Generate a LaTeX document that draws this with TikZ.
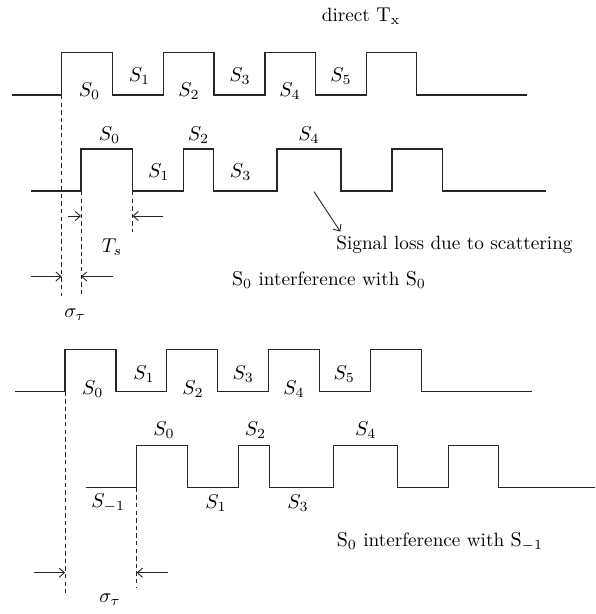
\documentclass[tikz,border=0pt]{standalone}
\usetikzlibrary{calc}
\usetikzlibrary{arrows.meta}
\usepackage{amsmath, amssymb}

\begin{document}
\begin{tikzpicture}[x=0.5pt, y=-0.5pt]
        % ================= 样式定义 =================
        \tikzset{
            % 波形与虚线:细线,略带灰色
            wave/.style={line width=0.55pt, black!85},
            guide/.style={line width=0.45pt, black!85, dash pattern=on 2.2pt off 1.6pt},
            dimarrow/.style={line width=0.45pt, black!85, -{Straight Barb[length=2.6pt, width=4.6pt]}},
            lbl/.style={inner sep=0pt, font=\fontsize{9.6}{11.5}\selectfont}
        }
        \useasboundingbox (0,0) rectangle (595,614);

        % ================= 上图:S0 与 S0 干扰 =================
        % 1. 直达信号 (direct Tx)
        \node[lbl] (direct) at (361,16) {direct $\mathrm{T_x}$};
        \draw[wave] (11.7,95) -| (61.7,52.7) -| (112.5,95) -| (163.3,52.7) -| (214,95)
                    -| (265,52.7) -| (315.7,95) -| (366.7,52.7) -| (416.7,95) -- (526.7,95);

        % 2. 散射后的接收信号
        \draw[wave] (31,191) -| (81,149) -| (132.5,191) -| (183.4,149) -| (213.3,191)
                    -| (277,149) -| (341,191) -| (392,149) -| (442.5,191) -- (546,191);

        % 3. 符号标注
        \node[lbl] (a0) at (89.5,91)  {$S_0$};
        \node[lbl] (a1) at (139.5,76) {$S_1$};
        \node[lbl] (a2) at (189,91)   {$S_2$};
        \node[lbl] (a3) at (240,76)   {$S_3$};
        \node[lbl] (a4) at (290,91)   {$S_4$};
        \node[lbl] (a5) at (341,76)   {$S_5$};
        \node[lbl] (b0) at (109.5,135) {$S_0$};
        \node[lbl] (b2) at (198.5,135) {$S_2$};
        \node[lbl] (b4) at (309,135)   {$S_4$};
        \node[lbl] (b1) at (158.7,172) {$S_1$};
        \node[lbl] (b3) at (240.6,172) {$S_3$};

        % 4. 虚线与尺寸箭头
        \draw[guide] (61.7,95) -- (61.7,296);
        \draw[guide] (81,191) -- (81,296);
        \draw[guide] (132.5,191) -- (132.5,231.7);
        \coordinate (tsL) at (68.3,216);   \coordinate (tsA) at (81,216);
        \coordinate (tsR) at (162.7,216);  \coordinate (tsB) at (132.5,216);
        \coordinate (stL) at (30.6,276.5); \coordinate (stA) at (61.7,276.5);
        \coordinate (stR) at (113,276.5);  \coordinate (stB) at (81,276.5);
        \draw[dimarrow] (tsL) -- (tsA);
        \draw[dimarrow] (tsR) -- (tsB);
        \draw[dimarrow] (stL) -- (stA);
        \draw[dimarrow] (stR) -- (stB);
        \node[lbl] (ts) at (112,247)   {$T_s$};
        \node[lbl] (sig1) at (75,315)  {$\sigma_\tau$};

        % 5. 文字说明
        \node[lbl] (loss) at (454.5,245) {Signal loss due to scattering};
        \coordinate (gap) at (314,191.6);
        \coordinate (lossTip) at (340.3,231.6);
        \draw[dimarrow] (gap) -- (lossTip);
        \node[lbl] (int1) at (329,280) {$\mathrm{S_0}$ interference with $\mathrm{S_0}$};

        % ================= 下图:S0 与 S-1 干扰 =================
        % 1. 直达信号
        \draw[wave] (15,391.5) -| (65,349.3) -| (116,391.5) -| (166.7,349.3) -| (217.4,391.5)
                    -| (268.8,349.3) -| (319.5,391.5) -| (370.9,349.3) -| (421.5,391.5) -- (531.7,391.5);

        % 2. 延迟更大的接收信号
        \draw[wave] (86,487.7) -| (136.7,445.7) -| (187.7,487.7) -| (238.7,445.7) -| (269.2,487.7)
                    -| (333.2,445.7) -| (397.5,487.7) -| (448.5,445.7) -| (498.5,487.7) -- (595,487.7);

        % 3. 符号标注
        \node[lbl] (c0) at (92.8,389)  {$S_0$};
        \node[lbl] (c1) at (144,374)   {$S_1$};
        \node[lbl] (c2) at (193,389)   {$S_2$};
        \node[lbl] (c3) at (243.3,374) {$S_3$};
        \node[lbl] (c4) at (294,389)   {$S_4$};
        \node[lbl] (c5) at (344.3,374) {$S_5$};
        \node[lbl] (d0) at (164,430.5)   {$S_0$};
        \node[lbl] (d2) at (255.5,430.5) {$S_2$};
        \node[lbl] (d4) at (365.8,430.5) {$S_4$};
        \node[lbl] (dm) at (108.3,503.3) {$S_{-1}$};
        \node[lbl] (d1) at (216,503.3)   {$S_1$};
        \node[lbl] (d3) at (297.9,503.3) {$S_3$};

        % 4. 虚线与尺寸箭头
        \draw[guide] (65,391.5) -- (65,593);
        \draw[guide] (136.7,487.7) -- (136.7,588);
        \coordinate (lwL) at (34.3,572.7);  \coordinate (lwA) at (65,572.7);
        \coordinate (lwR) at (167.7,572.7); \coordinate (lwB) at (136.7,572.7);
        \draw[dimarrow] (lwL) -- (lwA);
        \draw[dimarrow] (lwR) -- (lwB);
        \node[lbl] (sig2) at (110,600) {$\sigma_\tau$};

        % 5. 文字说明
        \node[lbl] (int2) at (440,541.5) {$\mathrm{S_0}$ interference with $\mathrm{S_{-1}}$};

    \end{tikzpicture}
\end{document}
